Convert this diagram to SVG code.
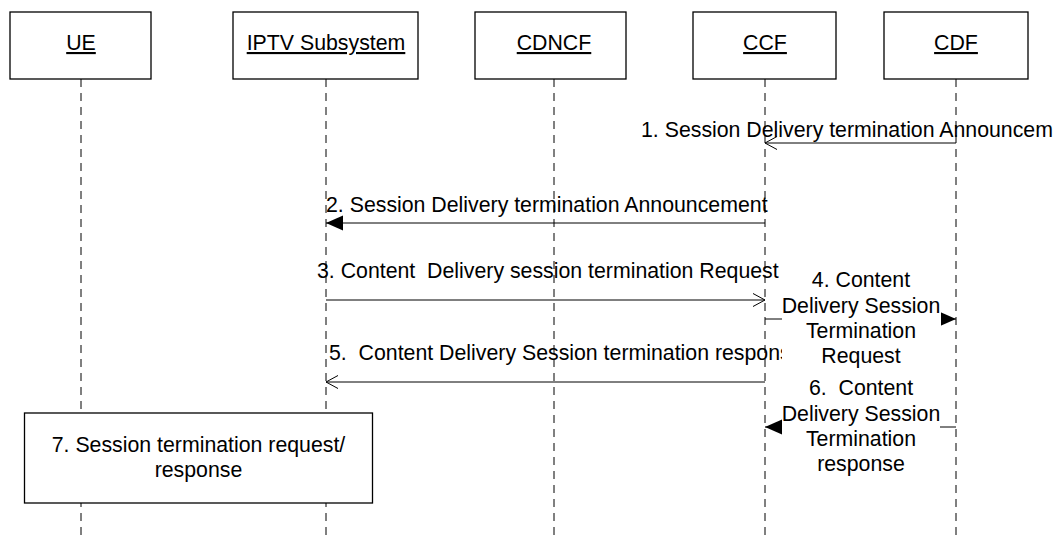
<svg xmlns="http://www.w3.org/2000/svg" width="1055" height="541" viewBox="0 0 1055 541">
<style>
.box{fill:#fff;stroke:#000;stroke-width:1.3}
.life{stroke:#000;stroke-width:1;stroke-dasharray:8,6;fill:none}
.msg{stroke:#000;stroke-width:1;fill:none}
.t{font-family:"Liberation Sans",Arial,sans-serif;font-size:21.3px;fill:#000}
.lbl{text-decoration:underline;text-anchor:middle}
.c{text-anchor:middle}
.bg{fill:#fff;stroke:none}
</style>
<defs>
<marker id="open" markerUnits="userSpaceOnUse" viewBox="-14 -8 16 16" refX="0" refY="0" markerWidth="16" markerHeight="16" orient="auto">
<path d="M-12,-6.5 L0,0 L-12,6.5" fill="none" stroke="#000" stroke-width="1"/>
</marker>
<marker id="filled" markerUnits="userSpaceOnUse" viewBox="-18 -9 20 18" refX="0" refY="0" markerWidth="20" markerHeight="18" orient="auto">
<path d="M0,0 L-17,-7.5 L-17,7.5 Z" fill="#000"/>
</marker>
</defs>

<g id="lifelines">
<line class="life" x1="81" y1="79" x2="81" y2="541"/>
<line class="life" x1="326" y1="79" x2="326" y2="541"/>
<line class="life" x1="554" y1="79" x2="554" y2="541"/>
<line class="life" x1="765" y1="79" x2="765" y2="541"/>
<line class="life" x1="956" y1="79" x2="956" y2="541"/>
</g>

<g id="node-ue"><rect class="box" x="10" y="12" width="141" height="67"/><text class="t lbl" x="81" y="50">UE</text></g>
<g id="node-iptv"><rect class="box" x="233" y="12" width="185" height="67"/><text class="t lbl" x="326" y="50">IPTV Subsystem</text></g>
<g id="node-cdncf"><rect class="box" x="475" y="12" width="151" height="67"/><text class="t lbl" x="554" y="50">CDNCF</text></g>
<g id="node-ccf"><rect class="box" x="693" y="12" width="143" height="67"/><text class="t lbl" x="765" y="50">CCF</text></g>
<g id="node-cdf"><rect class="box" x="884" y="12" width="144" height="67"/><text class="t lbl" x="956" y="50">CDF</text></g>

<g id="connectors">
<line class="msg" x1="956" y1="143" x2="765" y2="143" marker-end="url(#open)"/>
<text class="t" x="641" y="137">1. Session Delivery termination Announcem</text>

<line class="msg" x1="765" y1="223" x2="326" y2="223" marker-end="url(#filled)"/>
<text class="t" x="326" y="212">2. Session Delivery termination Announcement</text>

<line class="msg" x1="326" y1="300" x2="765" y2="300" marker-end="url(#open)"/>
<text class="t" x="317" y="278" xml:space="preserve">3. Content  Delivery session termination Request</text>

<line class="msg" x1="765" y1="382" x2="326" y2="382" marker-end="url(#open)"/>
<text class="t" x="329" y="360" xml:space="preserve">5.  Content Delivery Session termination response</text>

<line class="msg" x1="765" y1="319" x2="956" y2="319" marker-end="url(#filled)"/>
<rect class="bg" x="782" y="268" width="159" height="102"/>
<text class="t c" x="861" y="287">4. Content</text>
<text class="t c" x="861" y="313">Delivery Session</text>
<text class="t c" x="861" y="338">Termination</text>
<text class="t c" x="861" y="363">Request</text>

<line class="msg" x1="956" y1="427" x2="765" y2="427" marker-end="url(#filled)"/>
<rect class="bg" x="782" y="376" width="158" height="102"/>
<text class="t c" x="861" y="395" xml:space="preserve">6.  Content</text>
<text class="t c" x="861" y="421">Delivery Session</text>
<text class="t c" x="861" y="446">Termination</text>
<text class="t c" x="861" y="471">response</text>
</g>

<g id="node-7">
<rect class="box" x="24.5" y="413" width="348" height="90" stroke-width="1.6"/>
<text class="t c" x="198.5" y="452">7. Session termination request/</text>
<text class="t c" x="198.5" y="477">response</text>
</g>
</svg>
